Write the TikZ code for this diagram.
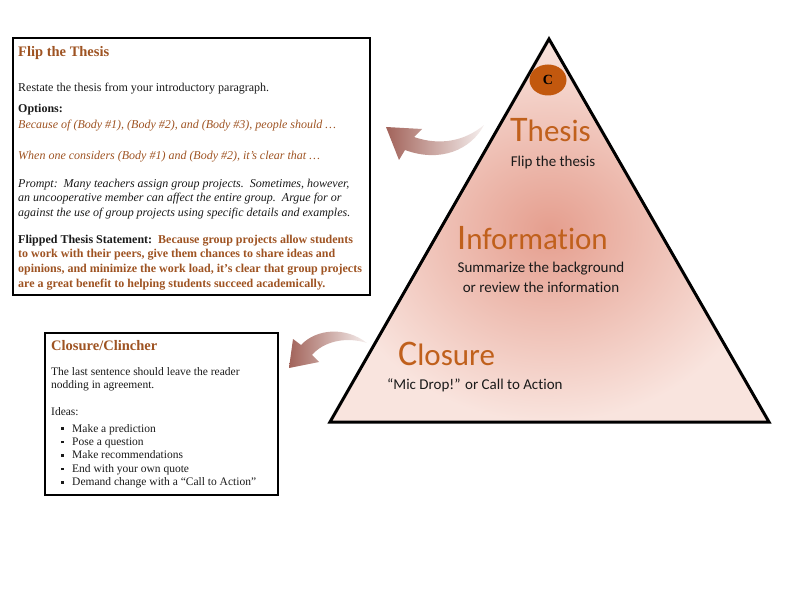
\documentclass[tikz,border=0pt]{standalone}
\usepackage{fontspec}
\setmainfont{Liberation Serif}
\newfontfamily\calibri[Ligatures=NoCommon]{Carlito}
\usetikzlibrary{shapes.geometric, positioning, calc}

\definecolor{thesisbrown}{HTML}{9E5322}
\definecolor{pyramidorange}{HTML}{C0601C}
\definecolor{circleorange}{HTML}{C2580E}
\definecolor{arrowbrown}{HTML}{A2635A}
\definecolor{pyramidin}{HTML}{E59E8E}
\definecolor{pyramidout}{HTML}{F9E4DE}
\definecolor{inktext}{HTML}{1A1A1A}

\newcommand{\bulletmark}{\raisebox{2.2pt}{\rule{2.6pt}{2.6pt}}}

\begin{document}
\begin{tikzpicture}[
    x=1pt, y=-1pt,
    infobox/.style={draw=black, line width=2.6pt},
    boxtitle/.style={anchor=base west, inner sep=0pt, font=\fontsize{14.5}{17}\selectfont\bfseries, text=thesisbrown},
    boxline/.style={anchor=base west, inner sep=0pt, font=\fontsize{12}{14.7}\selectfont, text=inktext},
    boxpara/.style={anchor=north west, inner sep=0pt, align=left, font=\fontsize{12}{14.7}\selectfont, text=inktext},
    smallpara/.style={anchor=north west, inner sep=0pt, align=left, font=\fontsize{11.5}{13.4}\selectfont, text=inktext},
    bigword/.style={anchor=base west, inner sep=0pt, text=pyramidorange, font=\calibri},
    subtext/.style={inner sep=0pt, align=center, text=inktext, font=\calibri\fontsize{15}{19.5}\selectfont},
    flipshade/.style={left color=arrowbrown, right color=arrowbrown!10}
]
    \useasboundingbox (0,0) rectangle (792,612);

    % ================= PYRAMID =================
    \coordinate (apex) at (549,39);
    \coordinate (baseL) at (330,422);
    \coordinate (baseR) at (769,422);
    \shade[inner color=pyramidin, outer color=pyramidout] (apex) -- (baseR) -- (baseL) -- cycle;
    \draw[line width=3pt] (apex) -- (baseR) -- (baseL) -- cycle;

    \node[ellipse, fill=circleorange, minimum width=37, minimum height=31, inner sep=0pt,
          font=\fontsize{14}{14}\selectfont\bfseries] (cmark) at (548,80) {C};

    % ================= PYRAMID LABELS =================
    \node[bigword] (thesis) at (510,142) {{\fontsize{36}{36}\selectfont T}{\fontsize{31}{31}\selectfont hesis}};
    \node[subtext, anchor=base] (thesis_sub) at (553,167) {Flip the thesis};

    \node[bigword] (info) at (457,250) {{\fontsize{36}{36}\selectfont I}{\fontsize{31}{31}\selectfont nformation}};
    \node[subtext, anchor=north] (info_sub) at (541,262) {Summarize the background\\or review the information};

    \node[bigword] (closure) at (398,365) {{\fontsize{36}{36}\selectfont C}{\fontsize{31}{31}\selectfont losure}};
    \node[subtext, anchor=base west] (closure_sub) at (387,389) {“Mic Drop!” or Call to Action};

    % ================= ARROWS =================
    % Thesis -> top box
    \shade[flipshade] (386,127) -- (422,129) -- (414,137)
        .. controls (440,146) and (465,141) .. (484,125)
        .. controls (471,150) and (440,163) .. (405,150) -- (399,160) -- cycle;
    % Closure -> bottom box
    \shade[flipshade] (289,368) -- (293,339) -- (301,345)
        .. controls (316,329) and (345,326) .. (367,343)
        .. controls (345,336) and (323,342) .. (312,355) -- (319,362) -- cycle;

    % ================= FLIP THE THESIS BOX =================
    \draw[infobox] (13,38) rectangle (370,295);
    \node[boxtitle] (flip_title) at (18,57) {Flip the Thesis};
    \node[boxline] (restate) at (18,92) {Restate the thesis from your introductory paragraph.};
    \node[boxline, font=\fontsize{12}{14.7}\selectfont\bfseries] (options) at (18,113) {Options:};
    \node[boxline, text=thesisbrown, font=\fontsize{12}{14.7}\selectfont\itshape] (option_a) at (18,129)
        {Because of (Body \#1), (Body \#2), and (Body \#3), people should \ldots};
    \node[boxline, text=thesisbrown, font=\fontsize{12}{14.7}\selectfont\itshape] (option_b) at (18,160)
        {When one considers (Body \#1) and (Body \#2), it’s clear that \ldots};
    \node[boxpara, font=\fontsize{12}{14.7}\selectfont\itshape] (prompt) at (18,178.5)
        {Prompt:\ \ Many teachers assign group projects.\ \ Sometimes, however,\\
         an uncooperative member can affect the entire group.\ \ Argue for or\\
         against the use of group projects using specific details and examples.};
    \node[boxpara, font=\fontsize{12}{14.7}\selectfont\bfseries] (flipped) at (18,234.7)
        {Flipped Thesis Statement:\ \ \textcolor{thesisbrown}{Because group projects allow students}\\
         \textcolor{thesisbrown}{to work with their peers, give them chances to share ideas and}\\
         \textcolor{thesisbrown}{opinions, and minimize the work load, it’s clear that group projects}\\
         \textcolor{thesisbrown}{are a great benefit to helping students succeed academically.}};

    % ================= CLOSURE BOX =================
    \draw[infobox, line width=2pt] (45,333) rectangle (278,495);
    \node[boxtitle] (clos_title) at (51,350) {Closure/Clincher};
    \node[smallpara] (clos_text) at (51,367)
        {The last sentence should leave the reader\\nodding in agreement.};
    \node[boxline, font=\fontsize{11.5}{13.4}\selectfont] (ideas) at (51,415) {Ideas:};
    \node[smallpara] (idea_list) at (61,424)
        {\makebox[11pt][l]{\bulletmark}Make a prediction\\
         \makebox[11pt][l]{\bulletmark}Pose a question\\
         \makebox[11pt][l]{\bulletmark}Make recommendations\\
         \makebox[11pt][l]{\bulletmark}End with your own quote\\
         \makebox[11pt][l]{\bulletmark}Demand change with a “Call to Action”};

\end{tikzpicture}
\end{document}
